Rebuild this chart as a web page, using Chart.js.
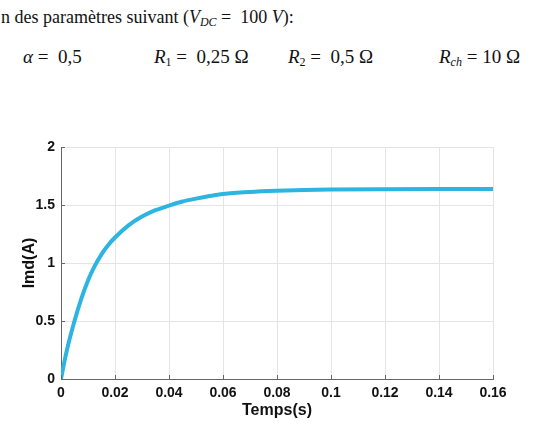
<!DOCTYPE html>
<html>
<head>
<meta charset="utf-8">
<script src="https://cdn.jsdelivr.net/npm/chart.js@4/dist/chart.umd.min.js"></script>
<style>
  html, body { margin: 0; padding: 0; background: #fff; }
  body { width: 541px; height: 424px; position: relative; overflow: hidden;
         font-family: "Liberation Serif", "Times New Roman", serif; color: #111; }
  .txt { position: absolute; font-size: 18px; white-space: nowrap; line-height: 1; }
  .eq { font-size: 19px; }
  .m { font-style: italic; }
  sub { font-size: 12px; vertical-align: -3px; line-height: 0; }
  #plot { position: absolute; left: 0; top: 100px; width: 541px; height: 324px; }
</style>
</head>
<body>
<div class="txt" style="left:1px; top:8px;">n des paramètres suivant (<span class="m">V</span><sub class="m">DC</sub> =&nbsp; 100 <span class="m">V</span>):</div>
<div class="txt eq" style="left:23px; top:47px;"><span class="m">α</span> =&nbsp; 0,5</div>
<div class="txt eq" style="left:154px; top:47px;"><span class="m">R</span><sub>1</sub> =&nbsp; 0,25 Ω</div>
<div class="txt eq" style="left:288px; top:47px;"><span class="m">R</span><sub>2</sub> =&nbsp; 0,5 Ω</div>
<div class="txt eq" style="left:439px; top:47px;"><span class="m">R</span><sub class="m">ch</sub> = 10 Ω</div>
<div id="plot"><canvas id="c"></canvas></div>
<script>
// temps (s) et courant Imd (A)
var timeValues    = [0, 0.001, 0.0025, 0.005, 0.0075, 0.01, 0.0125, 0.015, 0.0175, 0.02,
                     0.025, 0.03, 0.035, 0.04, 0.045, 0.05, 0.055, 0.06, 0.07, 0.08, 0.09, 0.1, 0.12, 0.14, 0.16];
var currentValues = [0, 0.12, 0.28, 0.50, 0.69, 0.85, 0.975, 1.075, 1.155, 1.22,
                     1.325, 1.40, 1.455, 1.495, 1.53, 1.555, 1.577, 1.595, 1.613, 1.623, 1.629, 1.633, 1.636, 1.637, 1.637];
var xTickLabels = ['0', '0.02', '0.04', '0.06', '0.08', '0.1', '0.12', '0.14', '0.16'];
var yTickLabels = ['0', '0.5', '1', '1.5', '2'];

var points = timeValues.map(function (t, i) { return { x: t, y: currentValues[i] }; });

var axisColor = '#666666';
var gridColor = '#e4e4e4';
var tickFont = { family: '"Liberation Sans", Arial, sans-serif', size: 14, weight: 'bold' };
var titleFont = { family: '"Liberation Sans", Arial, sans-serif', size: 16, weight: 'bold' };

// petits traits de graduation vers l'intérieur, façon MATLAB
var innerTicks = {
    id: 'innerTicks',
    afterDraw: function (chart) {
        var ctx = chart.ctx, area = chart.chartArea;
        var sx = chart.scales.x, sy = chart.scales.y;
        ctx.save();
        ctx.strokeStyle = axisColor;
        ctx.lineWidth = 1;
        ctx.beginPath();
        sx.ticks.forEach(function (t) {
            var px = Math.round(sx.getPixelForValue(t.value)) + 0.5;
            ctx.moveTo(px, area.bottom);
            ctx.lineTo(px, area.bottom - 4);
        });
        sy.ticks.forEach(function (t) {
            var py = Math.round(sy.getPixelForValue(t.value)) + 0.5;
            ctx.moveTo(area.left, py);
            ctx.lineTo(area.left + 4, py);
        });
        ctx.stroke();
        ctx.restore();
    }
};

new Chart(document.getElementById('c'), {
    type: 'line',
    data: {
        datasets: [{
            data: points,
            borderColor: '#2db4e1',
            borderWidth: 4,
            pointRadius: 0,
            fill: false,
            cubicInterpolationMode: 'monotone'
        }]
    },
    options: {
        responsive: true, maintainAspectRatio: false, animation: false,
        layout: { padding: { left: 0, right: 48, top: 47, bottom: 0 } },
        plugins: { legend: { display: false }, tooltip: { enabled: false } },
        scales: {
            x: {
                type: 'linear', min: 0, max: 0.16,
                afterFit: function (s) { s.height = 45; },
                grid: { color: gridColor, drawTicks: false },
                border: { color: axisColor, width: 1 },
                ticks: { stepSize: 0.02, padding: 6, color: '#111', font: tickFont, maxRotation: 0,
                    callback: function (v, i) { return xTickLabels[i]; } },
                title: { display: true, text: 'Temps(s)', color: '#111', font: titleFont, padding: { top: 0, bottom: 4 } }
            },
            y: {
                min: 0, max: 2,
                afterFit: function (s) { s.width = 61; },
                grid: { color: gridColor, drawTicks: false },
                border: { color: axisColor, width: 1 },
                ticks: { stepSize: 0.5, padding: 6, color: '#111', font: tickFont,
                    callback: function (v, i) { return yTickLabels[i]; } },
                title: { display: true, text: 'Imd(A)', color: '#111', font: titleFont, padding: { top: 20, bottom: 0 } }
            }
        }
    },
    plugins: [innerTicks]
});
</script>
</body>
</html>
